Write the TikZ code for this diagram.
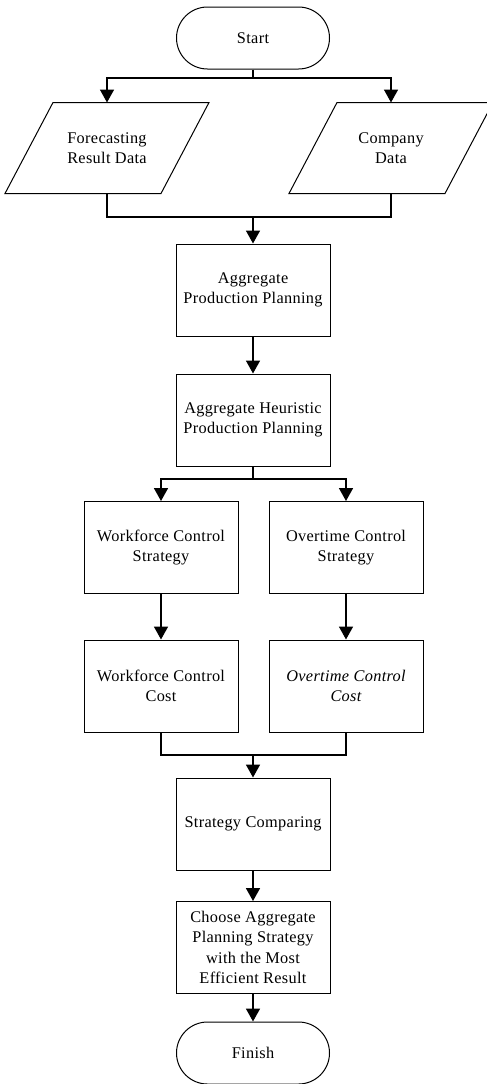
\documentclass[tikz,border=0pt]{standalone}
\usepackage{fontspec}
\setmainfont{Liberation Serif}[LetterSpace=2]
\usetikzlibrary{shapes.misc,arrows.meta}
\begin{document}
\begin{tikzpicture}[x=1pt,y=-1pt,
  base/.style={line width=1pt,align=center,font=\fontsize{16.3}{20.5}\selectfont,inner sep=1pt},
  proc/.style={base,draw=black,rectangle,minimum width=154pt,minimum height=92pt},
  term/.style={base,draw=black,rounded rectangle,minimum width=155pt,minimum height=62pt},
  io/.style={base,rectangle,minimum width=155pt,minimum height=90pt},
  para/.style={line width=1pt,line join=miter},
  line/.style={line width=1.7pt},
  arr/.style={line width=1.7pt,-{Triangle[width=14pt,length=13pt]}}]
\useasboundingbox (0,0) rectangle (487,1084);
\node[term] (start) at (253,38) {Start};
\node[io] (fc) at (107,148) {Forecasting\\Result Data};
\node[io] (cd) at (391,148) {Company\\Data};
\draw[para] ([xshift=24pt]fc.north west) -- ([xshift=24pt]fc.north east) -- ([xshift=-24pt]fc.south east) -- ([xshift=-24pt]fc.south west) -- cycle;
\draw[para] ([xshift=24pt]cd.north west) -- ([xshift=24pt]cd.north east) -- ([xshift=-24pt]cd.south east) -- ([xshift=-24pt]cd.south west) -- cycle;
\node[proc] (app) at (253,290) {Aggregate\\Production Planning};
\node[proc] (ahp) at (253,420) {Aggregate Heuristic\\Production Planning};
\node[proc] (wcs) at (161,547.5) {Workforce Control\\Strategy};
\node[proc] (ocs) at (346,547.5) {Overtime Control\\Strategy};
\node[proc] (wcc) at (161,686) {Workforce Control\\Cost};
\node[proc] (occ) at (346,686) {\itshape Overtime Control\\\itshape Cost};
\node[proc] (sc) at (253,824) {Strategy Comparing};
\node[proc] (ch) at (253,947.5) {Choose Aggregate\\Planning Strategy\\with the Most\\Efficient Result};
\node[term] (fin) at (253,1053) {Finish};
\coordinate (j0) at (253,78);
\coordinate (j1) at (253,217);
\coordinate (j2) at (253,479);
\coordinate (j3) at (253,755);
\draw[line] (start.south) -- (j0);
\draw[arr] (j0) -| (fc.north);
\draw[arr] (j0) -| (cd.north);
\draw[line] (fc.south) |- (j1) -| (cd.south);
\draw[arr] (j1) -- (app.north);
\draw[arr] (app.south) -- (ahp.north);
\draw[line] (ahp.south) -- (j2);
\draw[arr] (j2) -| (wcs.north);
\draw[arr] (j2) -| (ocs.north);
\draw[arr] (wcs.south) -- (wcc.north);
\draw[arr] (ocs.south) -- (occ.north);
\draw[line] (wcc.south) |- (j3) -| (occ.south);
\draw[arr] (j3) -- (sc.north);
\draw[arr] (sc.south) -- (ch.north);
\draw[arr] (ch.south) -- (fin.north);
\end{tikzpicture}
\end{document}
